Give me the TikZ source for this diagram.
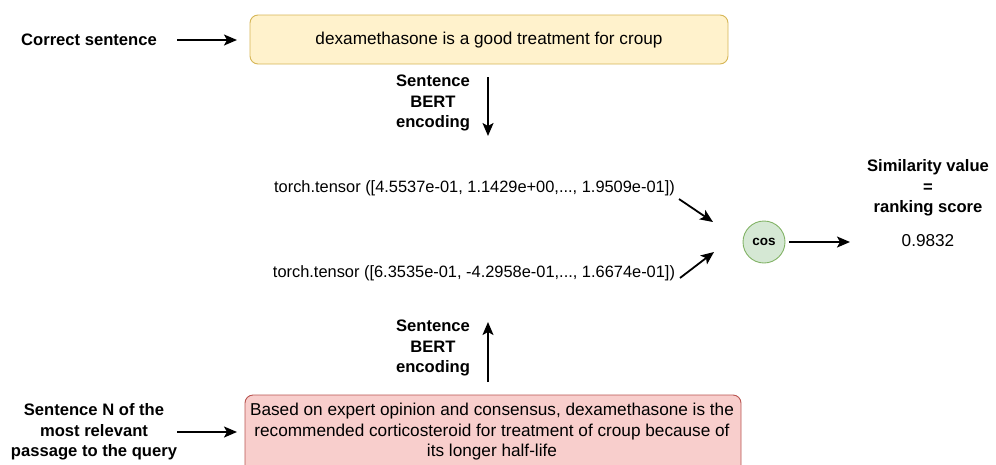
\documentclass[tikz,border=0pt]{standalone}
\usepackage{fontspec}
\setmainfont{Liberation Sans}
\usetikzlibrary{arrows.meta}
\definecolor{yfill}{HTML}{FFF2CC}
\definecolor{ydraw}{HTML}{D6B656}
\definecolor{rfill}{HTML}{F8CECC}
\definecolor{rdraw}{HTML}{B85450}
\definecolor{gfill}{HTML}{D5E8D4}
\definecolor{gdraw}{HTML}{82B366}
\begin{document}
\begin{tikzpicture}[x=1pt,y=-1pt,
  txt/.style={font=\fontsize{17.2}{20.5}\selectfont, align=center, inner sep=0pt},
  tens/.style={font=\fontsize{16.4}{20.5}\selectfont, inner sep=0pt},
  lbl/.style={align=center, inner sep=0pt, font=\fontsize{16.6}{20.5}\selectfont\bfseries},
  conn/.style={line width=1.8pt, -{Stealth[length=13pt,width=11pt,inset=3pt]}},
  sentbox/.style={rounded corners=8pt, line width=0.9pt, inner sep=0pt}]
\useasboundingbox (0,0) rectangle (996,464);
\clip (0,0) rectangle (996,464);

% correct sentence
\draw[sentbox, fill=yfill, draw=ydraw] (250,15) rectangle (728,64);
\node[txt] (top) at (489,40) {dexamethasone is a good treatment for croup};
\coordinate (topL) at (237,40);
\node[lbl] (corr) at (89,40) {Correct sentence};
\draw[conn] (177,40) -- (topL);

% encoding of the correct sentence
\coordinate (d1) at (488,77);
\coordinate (d2) at (488,136);
\draw[conn] (d1) -- (d2);
\node[lbl] (enc1) at (433,103) {Sentence\\BERT\\encoding};

% embeddings
\node[tens] (t1) at (474.5,188) {torch.tensor ([4.5537e-01, 1.1429e+00,..., 1.9509e-01])};
\node[tens] (t2) at (474,273) {torch.tensor ([6.3535e-01, -4.2958e-01,..., 1.6674e-01])};

% cosine similarity
\node[circle, minimum size=42pt, inner sep=0pt, fill=gfill, draw=gdraw, line width=0.9pt,
  font=\fontsize{13.5}{15}\selectfont\bfseries] (cos) at (764,242) {cos};
\draw[conn] (679,199) -- (713,222);
\draw[conn] (680,278) -- (714,252);
\draw[conn] (cos.east) ++(4,0) coordinate (c0) -- (850,242) coordinate (c1);

\node[lbl] (sim) at (928,188) {Similarity value\\=\\ranking score};
\node[txt] (val) at (928,241) {0.9832};

% encoding of the retrieved sentence
\coordinate (u1) at (488,382);
\coordinate (u2) at (488,322);
\draw[conn] (u1) -- (u2);
\node[lbl] (enc2) at (433,348) {Sentence\\BERT\\encoding};

% retrieved sentence
\draw[sentbox, fill=rfill, draw=rdraw] (245,395) rectangle (741,490);
\node[txt] (bot) at (492,432) {Based on expert opinion and consensus, dexamethasone is the\\recommended corticosteroid for treatment of croup because of\\its longer half-life};
\node[lbl] (rel) at (94,432) {Sentence N of the\\most relevant\\passage to the query};
\draw[conn] (177,432) -- (237,432);
\end{tikzpicture}
\end{document}
